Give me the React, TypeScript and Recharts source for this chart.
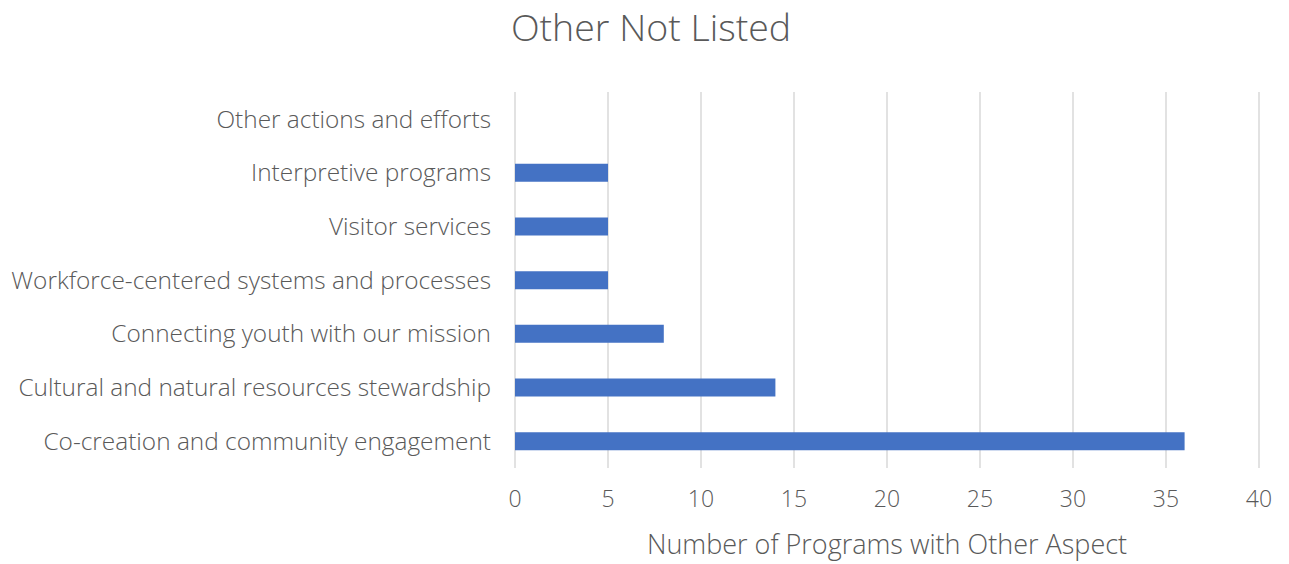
import React from "react";
import { BarChart, Bar, XAxis, YAxis, CartesianGrid, Label } from "recharts";

const categories = [
  "Other actions and efforts",
  "Interpretive programs",
  "Visitor services",
  "Workforce-centered systems and processes",
  "Connecting youth with our mission",
  "Cultural and natural resources stewardship",
  "Co-creation and community engagement",
];
const programCounts = [0, 5, 5, 5, 8, 14, 36];
const xTicks = [0, 5, 10, 15, 20, 25, 30, 35, 40];

const data = categories.map((name, i) => ({ name, value: programCounts[i] }));

const FONT = "'Open Sans', Lato, sans-serif";
const TEXT = "#595959";

export default function App() {
  return (
    <div style={{ position: "absolute", left: 0, top: 0, width: 1289, height: 564, background: "#fff" }}>
      <div
        style={{
          position: "absolute",
          left: 0,
          top: 1,
          width: 1302,
          textAlign: "center",
          fontFamily: FONT,
          fontWeight: 300,
          fontSize: 37.5,
          color: TEXT,
        }}
      >
        Other Not Listed
      </div>
      <BarChart
        width={1289}
        height={564}
        data={data}
        layout="vertical"
        margin={{ top: 92, right: 30, left: 0, bottom: 36 }}
        barCategoryGap={0}
      >
        <CartesianGrid horizontal={false} stroke="#d9d9d9" strokeWidth={1.5} />
        <XAxis
          type="number"
          domain={[0, 40]}
          ticks={xTicks}
          axisLine={false}
          tickLine={false}
          height={60}
          tick={{ fill: TEXT, fontSize: 23, fontFamily: FONT, fontWeight: 300 }}
          tickMargin={17}
        >
          <Label
            value="Number of Programs with Other Aspect"
            position="insideBottom"
            offset={-26}
            style={{ fill: TEXT, fontSize: 27, fontFamily: FONT, fontWeight: 300 }}
          />
        </XAxis>
        <YAxis
          type="category"
          dataKey="name"
          width={515}
          axisLine={false}
          tickLine={false}
          tickMargin={18}
          tick={{ fill: TEXT, fontSize: 24.4, fontFamily: FONT, fontWeight: 300 }}
        />
        <Bar dataKey="value" fill="#4472C4" barSize={18} isAnimationActive={false} />
      </BarChart>
    </div>
  );
}
